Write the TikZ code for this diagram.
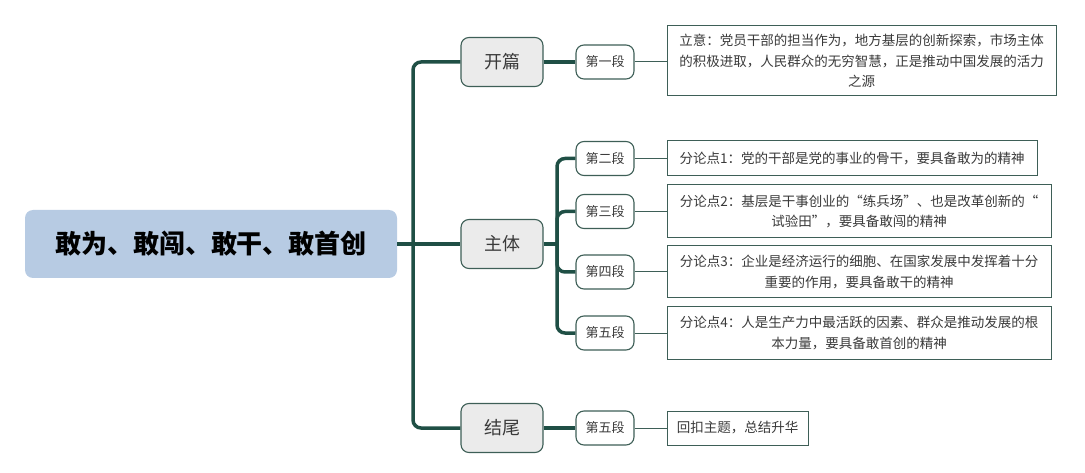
\documentclass[tikz,border=0pt]{standalone}
\usepackage{fontspec}
\setmainfont{Noto Sans CJK SC}
\usetikzlibrary{positioning}

\definecolor{branch}{HTML}{1F4F45}
\definecolor{frame}{HTML}{3E5F57}
\definecolor{rootfill}{HTML}{B7CBE3}
\definecolor{partfill}{HTML}{EBEBEB}
\definecolor{ink}{HTML}{3A3A3A}

\tikzset{
  rootbox/.style={fill=rootfill, rounded corners=8pt, minimum width=372pt, minimum height=68pt,
    inner sep=0pt, font=\fontsize{26}{30}\selectfont\bfseries, text=black},
  partbox/.style={draw=frame, line width=1.1pt, fill=partfill, rounded corners=8pt,
    minimum width=82pt, minimum height=49pt, inner sep=0pt, font=\fontsize{18}{21}\selectfont, text=ink},
  parabox/.style={draw=frame, line width=1.1pt, fill=white, rounded corners=8pt,
    minimum width=58pt, minimum height=34pt, inner sep=0pt, font=\fontsize{13}{16}\selectfont, text=ink},
  notebox/.style={draw=frame, line width=1pt, fill=white, inner sep=0pt, align=center,
    font=\fontsize{13.5}{20.5}\selectfont, text=ink},
  thickline/.style={draw=branch, line width=3.5pt, rounded corners=8pt},
  thinline/.style={draw=frame, line width=1pt}
}

\begin{document}
\begin{tikzpicture}[x=1pt, y=-1pt]
        \useasboundingbox (0,0) rectangle (1085,473);

        % Root
        \node[rootbox] (root) at (211,244) {敢为、敢闯、敢干、敢首创};

        % First level
        \node[partbox] (kaipian) at (502,62) {开篇};
        \node[partbox] (zhuti) at (502,244) {主体};
        \node[partbox] (jiewei) at (502,428) {结尾};

        % Paragraphs
        \node[parabox] (d1) at (605,62) {第一段};
        \node[parabox] (d2) at (605,158.5) {第二段};
        \node[parabox] (d3) at (605,211.5) {第三段};
        \node[parabox] (d4) at (605,272) {第四段};
        \node[parabox] (d5) at (605,333) {第五段};
        \node[parabox] (d6) at (605,428) {第五段};

        % Notes
        \node[notebox, minimum width=389pt, minimum height=70pt] (t1) at (861.5,61)
          {立意：党员干部的担当作为，地方基层的创新探索，市场主体\\的积极进取，人民群众的无穷智慧，正是推动中国发展的活力\\之源};
        \node[notebox, minimum width=370pt, minimum height=35pt] (t2) at (852,158.5)
          {分论点1：党的干部是党的事业的骨干，要具备敢为的精神};
        \node[notebox, minimum width=384pt, minimum height=53pt] (t3) at (859,211.5)
          {分论点2：基层是干事创业的“练兵场”、也是改革创新的“\\试验田”，要具备敢闯的精神};
        \node[notebox, minimum width=384pt, minimum height=52pt] (t4) at (859,272)
          {分论点3：企业是经济运行的细胞、在国家发展中发挥着十分\\重要的作用，要具备敢干的精神};
        \node[notebox, minimum width=384pt, minimum height=52pt] (t5) at (859,333)
          {分论点4：人是生产力中最活跃的因素、群众是推动发展的根\\本力量，要具备敢首创的精神};
        \node[notebox, minimum width=141pt, minimum height=34pt] (t6) at (737.5,428)
          {回扣主题，总结升华};

        % Trunks
        \coordinate (tr) at (413,244);
        \coordinate (sb) at (557,244);
        \draw[thickline] (root.east) -- (zhuti.west);
        \draw[thickline] (kaipian.west) -| (tr) |- (jiewei.west);
        \draw[thickline] (zhuti.east) -- (sb);
        \draw[thickline] (d2.west) -| (sb) |- (d5.west);
        \draw[thickline] (sb) |- (d3.west);
        \draw[thickline] (sb) |- (d4.west);
        \draw[thickline] (kaipian.east) -- (d1.west);
        \draw[thickline] (jiewei.east) -- (d6.west);

        % Thin links
        \foreach \i in {1,...,6}
          \draw[thinline] (d\i.east) -- (d\i.east -| t\i.west);

\end{tikzpicture}
\end{document}
